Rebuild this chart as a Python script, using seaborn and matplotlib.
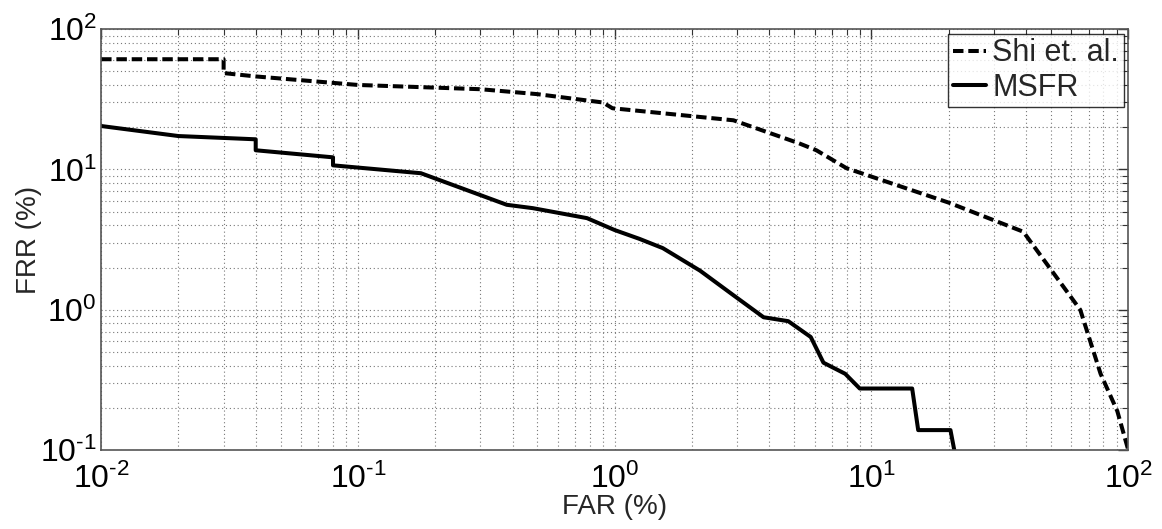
import numpy as np
import pandas as pd
import matplotlib
matplotlib.use("Agg")
import matplotlib.pyplot as plt
import seaborn as sns
from matplotlib.ticker import LogLocator, NullFormatter, FuncFormatter

# values (FAR %, FRR %)
SHI_FAR = [0.01, 0.03, 0.03, 0.04, 0.1, 0.3, 0.5, 0.9, 0.98, 2.9, 5.2, 6.1, 8.0, 20.0, 39.0, 65.0, 78.0, 90.6, 100.0]
SHI_FRR = [61.0, 61.0, 48.6, 46.0, 40.0, 37.3, 34.4, 30.0, 27.3, 22.4, 15.4, 13.7, 10.2, 5.8, 3.6, 1.0, 0.35, 0.19, 0.1]

MSFR_FAR = [0.01, 0.02, 0.04, 0.04, 0.08, 0.08, 0.176, 0.38, 0.48, 0.78, 1.0, 1.25, 1.54, 2.15, 2.9,
            3.8, 4.74, 5.8, 6.5, 7.9, 9.0, 14.4, 15.2, 20.3, 21.5]
MSFR_FRR = [20.4, 17.3, 16.4, 13.7, 12.2, 10.7, 9.4, 5.6, 5.3, 4.5, 3.7, 3.2, 2.75, 1.9, 1.27,
            0.885, 0.83, 0.64, 0.42, 0.35, 0.275, 0.275, 0.139, 0.139, 0.08]

LABELS = ["Shi et. al.", "MSFR"]


def pow10(v, pos):
    # matlab style label, plain hyphen in the exponent
    e = int(round(np.log10(v)))
    return r"$\mathdefault{10^{\text{%d}}}$" % e


def main():
    sns.set_theme(style="white")
    plt.rcParams['font.family'] = ['Liberation Sans', 'DejaVu Sans']
    plt.rcParams['mathtext.fontset'] = 'custom'
    plt.rcParams['mathtext.rm'] = 'Liberation Sans'

    fig = plt.figure(figsize=(11.62, 5.29), dpi=100)
    ax = fig.add_axes([0.087, 0.149, 0.884, 0.796])

    sns.lineplot(x=SHI_FAR, y=SHI_FRR, sort=False, estimator=None, color="black",
                 linewidth=2.9, linestyle=(0, (2.6, 1.2)), label=LABELS[0], ax=ax)
    sns.lineplot(x=MSFR_FAR, y=MSFR_FRR, sort=False, estimator=None, color="black",
                 linewidth=2.9, label=LABELS[1], ax=ax)

    ax.set_xscale("log")
    ax.set_yscale("log")
    ax.set_xlim(1e-2, 1e2)
    ax.set_ylim(1e-1, 1e2)

    for axis in (ax.xaxis, ax.yaxis):
        axis.set_major_locator(LogLocator(base=10, numticks=10))
        axis.set_major_formatter(FuncFormatter(pow10))
        axis.set_minor_locator(LogLocator(base=10, subs=np.arange(2, 10), numticks=20))
        axis.set_minor_formatter(NullFormatter())

    ax.grid(True, which="both", linestyle=(0, (1, 2.5)), color="#777777", linewidth=0.8)
    ax.tick_params(which="both", direction="in", top=True, right=True, colors="#333333",
                   labelcolor="black")
    ax.tick_params(which="major", length=7, width=1, labelsize=23)
    ax.tick_params(axis="x", which="major", pad=10)
    ax.tick_params(axis="y", which="major", pad=3)
    ax.tick_params(which="minor", length=4, width=0.8)
    for s in ax.spines.values():
        s.set_color("#555555")
        s.set_linewidth(1.2)

    ax.set_xlabel("FAR (%)", fontsize=20, labelpad=-1)
    ax.set_ylabel("FRR (%)", fontsize=20, labelpad=-1)

    leg = ax.legend(loc="upper right", fontsize=22, frameon=True, fancybox=False,
                    handlelength=1.1, handletextpad=0.2, borderpad=0.15,
                    borderaxespad=0.15, labelspacing=0.15)
    leg.get_frame().set_edgecolor("black")
    leg.get_frame().set_linewidth(1.0)

    fig.savefig("out.png", dpi=100)
    plt.close(fig)


if __name__ == "__main__":
    main()
